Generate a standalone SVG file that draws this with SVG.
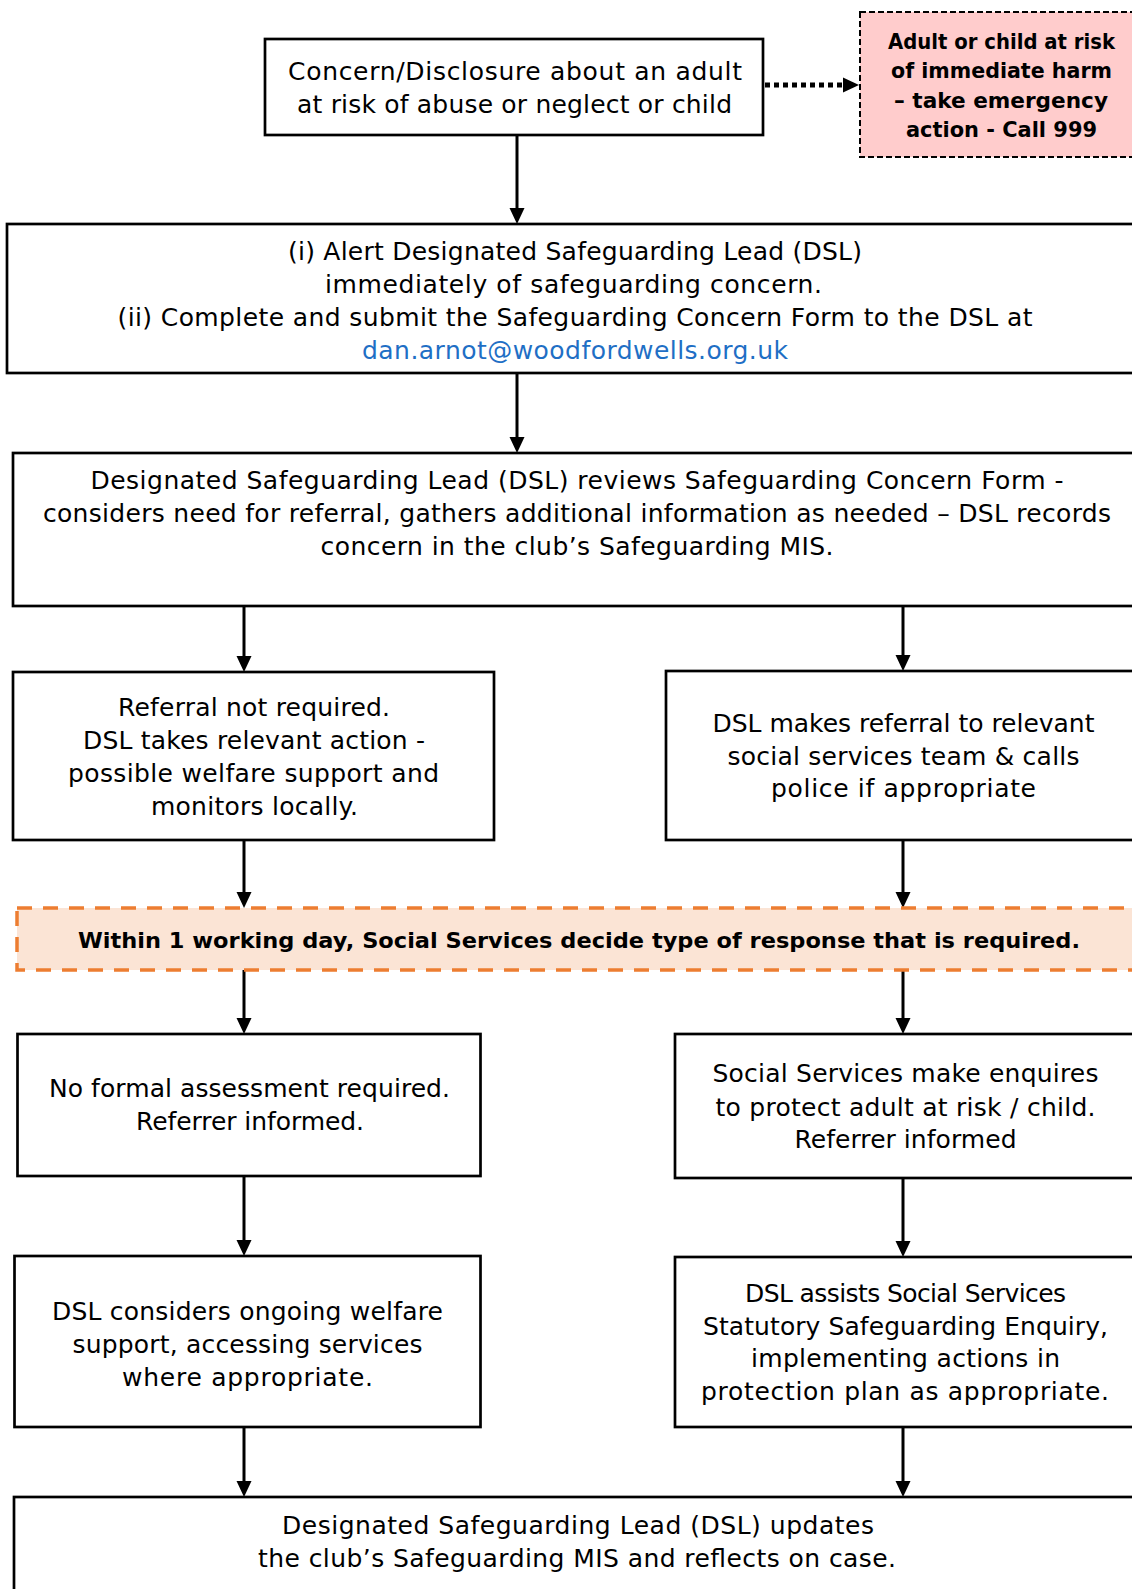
<svg xmlns="http://www.w3.org/2000/svg" width="1132" height="1589" viewBox="0 0 1132 1589">
<style>
.box{fill:#fff;stroke:#000;stroke-width:2.7}
.red{fill:#ffcccc;stroke:#000;stroke-width:2;stroke-dasharray:6 3}
.ban{fill:#fbe4d5;stroke:#ed7d31;stroke-width:3.5;stroke-dasharray:15 11}
.t{font-family:"DejaVu Sans","Liberation Sans",sans-serif;font-size:25px;fill:#000;text-anchor:middle}
.b{font-family:"DejaVu Sans","Liberation Sans",sans-serif;font-weight:bold;font-size:21.5px;fill:#000;text-anchor:middle}
.link{fill:#1f6fc5}
.conn line{stroke:#000;stroke-width:3;fill:none;marker-end:url(#ah)}
.conn line.dot{stroke-width:5;stroke-dasharray:5 4}
</style>
<defs>
<marker id="ah" markerUnits="userSpaceOnUse" markerWidth="16" markerHeight="16" viewBox="0 0 16 16" refX="1" refY="8" orient="auto">
<path d="M0,0.5 L16,8 L0,15.5 Z" fill="#000"/>
</marker>
</defs>
<rect width="1132" height="1589" fill="#fff"/>

<g id="connectors" class="conn">
<line class="dot" x1="765" y1="85" x2="844" y2="85"/>
<line x1="517" y1="136" x2="517" y2="209"/>
<line x1="517" y1="373" x2="517" y2="438"/>
<line x1="244" y1="606" x2="244" y2="657"/>
<line x1="903" y1="606" x2="903" y2="656"/>
<line x1="244" y1="840" x2="244" y2="893"/>
<line x1="903" y1="840" x2="903" y2="893"/>
<line x1="244" y1="970" x2="244" y2="1019"/>
<line x1="903" y1="970" x2="903" y2="1019"/>
<line x1="244" y1="1176" x2="244" y2="1241"/>
<line x1="903" y1="1178" x2="903" y2="1242"/>
<line x1="244" y1="1427" x2="244" y2="1482"/>
<line x1="903" y1="1427" x2="903" y2="1482"/>
</g>

<g id="concern">
<rect class="box" x="265" y="39" width="498" height="96"/>
<text class="t" x="515" y="80" textLength="454">Concern/Disclosure about an adult</text>
<text class="t" x="514.5" y="113" textLength="435">at risk of abuse or neglect or child</text>
</g>

<g id="emergency">
<rect class="red" x="860" y="12" width="290" height="145"/>
<text class="b" x="1001.5" y="49" textLength="227" lengthAdjust="spacingAndGlyphs">Adult or child at risk</text>
<text class="b" x="1001.5" y="78" textLength="221" lengthAdjust="spacingAndGlyphs">of immediate harm</text>
<text class="b" x="1001" y="108" textLength="214" lengthAdjust="spacingAndGlyphs">– take emergency</text>
<text class="b" x="1001.5" y="137" textLength="191" lengthAdjust="spacingAndGlyphs">action - Call 999</text>
</g>

<g id="alert">
<rect class="box" x="7" y="224" width="1140" height="149"/>
<text class="t" x="575" y="260" textLength="574">(i) Alert Designated Safeguarding Lead (DSL)</text>
<text class="t" x="573.5" y="293" textLength="497">immediately of safeguarding concern.</text>
<text class="t" x="575" y="326" textLength="915">(ii) Complete and submit the Safeguarding Concern Form to the DSL at</text>
<text class="t link" x="575" y="359" textLength="426">dan.arnot@woodfordwells.org.uk</text>
</g>

<g id="review">
<rect class="box" x="13" y="453" width="1135" height="153"/>
<text class="t" x="577" y="489" textLength="973">Designated Safeguarding Lead (DSL) reviews Safeguarding Concern Form -</text>
<text class="t" x="577" y="522" textLength="1068">considers need for referral, gathers additional information as needed – DSL records</text>
<text class="t" x="577" y="555" textLength="513">concern in the club’s Safeguarding MIS.</text>
</g>

<g id="no-referral">
<rect class="box" x="13" y="672" width="481" height="168"/>
<text class="t" x="254" y="716" textLength="272">Referral not required.</text>
<text class="t" x="254" y="749" textLength="342">DSL takes relevant action -</text>
<text class="t" x="253.5" y="782" textLength="371">possible welfare support and</text>
<text class="t" x="254.5" y="815" textLength="207">monitors locally.</text>
</g>

<g id="referral">
<rect class="box" x="666" y="671" width="480" height="169"/>
<text class="t" x="903.5" y="732" textLength="382">DSL makes referral to relevant</text>
<text class="t" x="903.5" y="765" textLength="352">social services team &amp; calls</text>
<text class="t" x="903.5" y="797" textLength="265">police if appropriate</text>
</g>

<g id="decide">
<rect class="ban" x="17" y="908" width="1130" height="62"/>
<text class="b" x="579" y="948" textLength="1002" lengthAdjust="spacingAndGlyphs">Within 1 working day, Social Services decide type of response that is required.</text>
</g>

<g id="no-assessment">
<rect class="box" x="17.5" y="1034" width="463" height="142"/>
<text class="t" x="249.5" y="1097" textLength="401">No formal assessment required.</text>
<text class="t" x="250" y="1130" textLength="228">Referrer informed.</text>
</g>

<g id="enquires">
<rect class="box" x="675" y="1034" width="470" height="144"/>
<text class="t" x="905.5" y="1082" textLength="386">Social Services make enquires</text>
<text class="t" x="905.5" y="1116" textLength="380">to protect adult at risk / child.</text>
<text class="t" x="905.5" y="1148" textLength="222">Referrer informed</text>
</g>

<g id="welfare">
<rect class="box" x="14.5" y="1256" width="466" height="171"/>
<text class="t" x="247.5" y="1320" textLength="391">DSL considers ongoing welfare</text>
<text class="t" x="247.5" y="1353" textLength="350">support, accessing services</text>
<text class="t" x="247.5" y="1386" textLength="251">where appropriate.</text>
</g>

<g id="assists">
<rect class="box" x="675" y="1257" width="470" height="170"/>
<text class="t" x="905.5" y="1302" textLength="321">DSL assists Social Services</text>
<text class="t" x="905.5" y="1335" textLength="405">Statutory Safeguarding Enquiry,</text>
<text class="t" x="905.5" y="1367" textLength="309">implementing actions in</text>
<text class="t" x="905" y="1400" textLength="408">protection plan as appropriate.</text>
</g>

<g id="updates">
<rect class="box" x="14" y="1497" width="1135" height="120"/>
<text class="t" x="578" y="1534" textLength="592">Designated Safeguarding Lead (DSL) updates</text>
<text class="t" x="577" y="1567" textLength="638">the club’s Safeguarding MIS and reflects on case.</text>
</g>
</svg>
